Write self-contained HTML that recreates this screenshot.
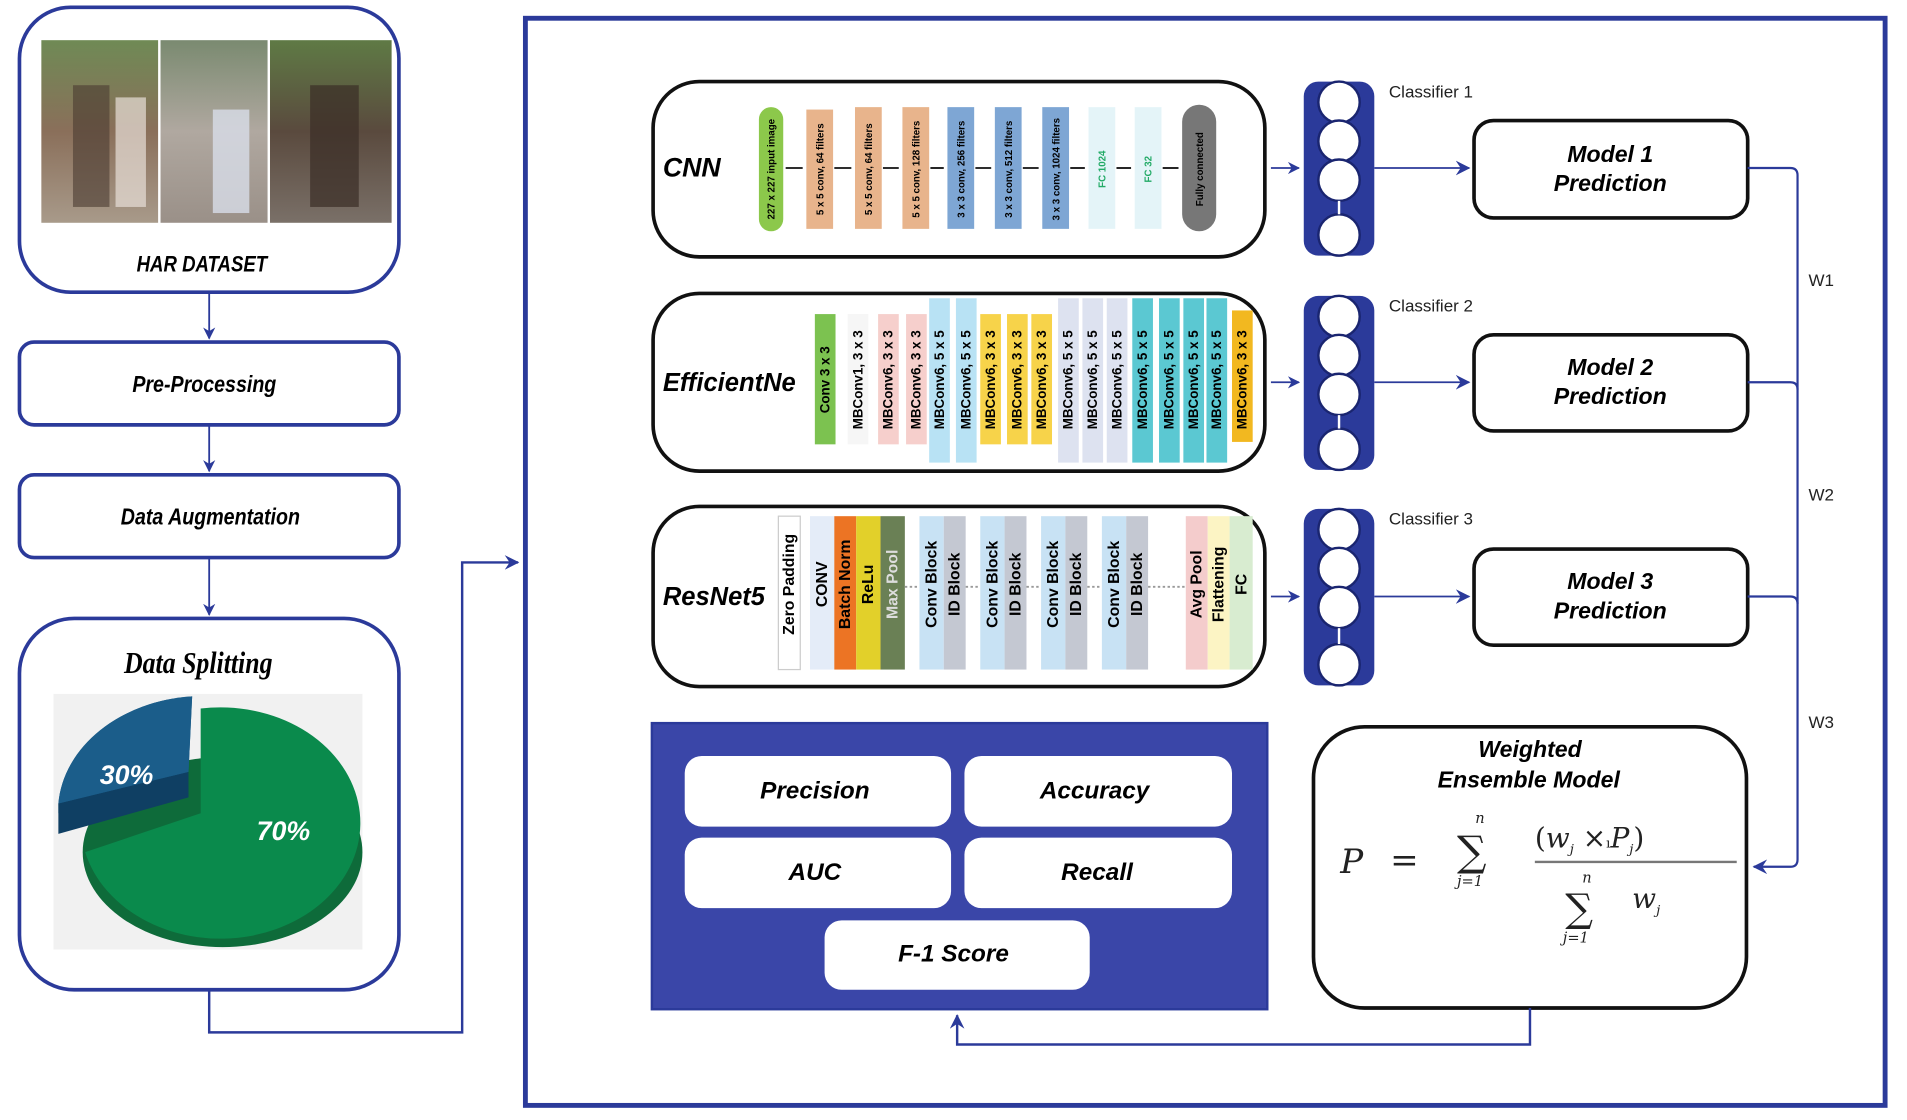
<!DOCTYPE html>
<html><head><meta charset="utf-8"><style>
html,body{margin:0;padding:0;background:#fff;}
svg{display:block;}
.t{font-family:"Liberation Sans",sans-serif;}
.bi{font-family:"Liberation Sans",sans-serif;font-weight:bold;font-style:italic;}
.v{font-family:"Liberation Sans",sans-serif;font-weight:bold;font-size:11px;}
</style></head><body>
<svg width="1907" height="1120" viewBox="0 0 1568 920" preserveAspectRatio="none" xmlns="http://www.w3.org/2000/svg">
<defs>
<marker id="ab" markerWidth="10" markerHeight="10" refX="9" refY="5" orient="auto" markerUnits="userSpaceOnUse"><path d="M0,0 L10,5 L0,10 L3,5 z" fill="#2b3a9a"/></marker>
<marker id="ak" markerWidth="12" markerHeight="12" refX="11" refY="6" orient="auto" markerUnits="userSpaceOnUse"><path d="M0,0 L12,6 L0,12 L4,6 z" fill="#2b3a9a"/></marker>
<linearGradient id="p1" x1="0" y1="0" x2="0" y2="1"><stop offset="0" stop-color="#6f8a55"/><stop offset=".5" stop-color="#8a6f5a"/><stop offset="1" stop-color="#a89a8a"/></linearGradient>
<linearGradient id="p2" x1="0" y1="0" x2="0" y2="1"><stop offset="0" stop-color="#7a8a70"/><stop offset=".5" stop-color="#b0a8a0"/><stop offset="1" stop-color="#9a9088"/></linearGradient>
<linearGradient id="p3" x1="0" y1="0" x2="0" y2="1"><stop offset="0" stop-color="#5f7a45"/><stop offset=".5" stop-color="#5a4a3e"/><stop offset="1" stop-color="#7a7068"/></linearGradient>
</defs>

<!-- LEFT COLUMN -->
<rect x="16" y="6" width="312" height="234" rx="42" fill="#fff" stroke="#2b3a9a" stroke-width="3"/>
<rect x="34" y="33" width="96" height="150" fill="url(#p1)"/>
<rect x="132" y="33" width="88" height="150" fill="url(#p2)"/>
<rect x="222" y="33" width="100" height="150" fill="url(#p3)"/>
<rect x="60" y="70" width="30" height="100" fill="#4a3a30" opacity=".6"/>
<rect x="95" y="80" width="25" height="90" fill="#e8e0d8" opacity=".7"/>
<rect x="175" y="90" width="30" height="85" fill="#d8dde8" opacity=".8"/>
<rect x="255" y="70" width="40" height="100" fill="#3a2e26" opacity=".7"/>
<text x="166" y="223" text-anchor="middle" class="bi" font-size="18" transform="translate(166,0) scale(0.85,1) translate(-166,0)">HAR DATASET</text>
<line x1="172" y1="240" x2="172" y2="278" stroke="#2b3a9a" stroke-width="1.5" marker-end="url(#ab)"/>

<rect x="16" y="281" width="312" height="68" rx="12" fill="#fff" stroke="#2b3a9a" stroke-width="3"/>
<text x="168" y="322" text-anchor="middle" class="bi" font-size="19" transform="translate(168,0) scale(0.85,1) translate(-168,0)">Pre-Processing</text>
<line x1="172" y1="349" x2="172" y2="387" stroke="#2b3a9a" stroke-width="1.5" marker-end="url(#ab)"/>

<rect x="16" y="390" width="312" height="68" rx="12" fill="#fff" stroke="#2b3a9a" stroke-width="3"/>
<text x="173" y="431" text-anchor="middle" class="bi" font-size="19" transform="translate(173,0) scale(0.85,1) translate(-173,0)">Data Augmentation</text>
<line x1="172" y1="458" x2="172" y2="505" stroke="#2b3a9a" stroke-width="1.5" marker-end="url(#ab)"/>

<rect x="16" y="508" width="312" height="305" rx="45" fill="#fff" stroke="#2b3a9a" stroke-width="3"/>
<text x="163" y="553" text-anchor="middle" font-family="Liberation Serif,serif" font-weight="bold" font-style="italic" font-size="25" transform="translate(163,0) scale(0.85,1) translate(-163,0)">Data Splitting</text>
<rect x="44" y="570" width="254" height="210" fill="#f1f1f1"/>
<ellipse cx="183" cy="700" rx="115" ry="78" fill="#0e6b3a"/>
<path d="M165,582 A115,95 0 1,1 70,700 L165,668 z" fill="#0a8a4c"/>
<path d="M48,668 L155,634 L158,572 A120,95 0 0,0 48,660 z" fill="#195b85"/>
<path d="M48,660 L48,685 L155,655 L155,634 z" fill="#0f3f63"/>
<path d="M48,660 A120,95 0 0,1 158,572 L155,634 z" fill="#1b5d8a"/>
<text x="104" y="644" text-anchor="middle" class="bi" font-size="22" fill="#fff">30%</text>
<text x="233" y="690" text-anchor="middle" class="bi" font-size="22" fill="#fff">70%</text>

<polyline points="172,813 172,848 380,848 380,462 426,462" fill="none" stroke="#2b3a9a" stroke-width="2" marker-end="url(#ak)"/>

<!-- MAIN FRAME -->
<rect x="432" y="15" width="1118" height="893" fill="none" stroke="#2b3a9a" stroke-width="4"/>

<!-- CNN -->
<rect x="537" y="67" width="503" height="144" rx="38" fill="#fff" stroke="#111" stroke-width="3"/>
<text x="545" y="145" class="bi" font-size="22">CNN</text>
<rect x="624" y="88" width="20" height="102" rx="10" fill="#8cc84b"/>
<rect x="663" y="90" width="22" height="98" fill="#e8b48c"/>
<rect x="703" y="88" width="22" height="100" fill="#e8b48c"/>
<rect x="742" y="88" width="22" height="100" fill="#e8b48c"/>
<rect x="779" y="88" width="22" height="100" fill="#7ea6d4"/>
<rect x="818" y="88" width="22" height="100" fill="#7ea6d4"/>
<rect x="857" y="88" width="22" height="100" fill="#7ea6d4"/>
<rect x="895" y="88" width="22" height="100" fill="#e4f4f8"/>
<rect x="933" y="88" width="22" height="100" fill="#e4f4f8"/>
<rect x="972" y="86" width="28" height="104" rx="14" fill="#777"/>
<g stroke="#111" stroke-width="1.5">
<line x1="646" y1="138" x2="660" y2="138"/><line x1="686" y1="138" x2="700" y2="138"/><line x1="726" y1="138" x2="739" y2="138"/><line x1="765" y1="138" x2="776" y2="138"/><line x1="802" y1="138" x2="815" y2="138"/><line x1="841" y1="138" x2="854" y2="138"/><line x1="880" y1="138" x2="892" y2="138"/><line x1="918" y1="138" x2="930" y2="138"/><line x1="956" y1="138" x2="969" y2="138"/>
</g>
<g class="t" font-size="8" font-weight="bold" text-anchor="middle">
<text transform="translate(637,139) rotate(-90)">227 x 227 input image</text>
<text transform="translate(677,139) rotate(-90)">5 x 5 conv, 64 filters</text>
<text transform="translate(717,139) rotate(-90)">5 x 5 conv, 64 filters</text>
<text transform="translate(756,139) rotate(-90)">5 x 5 conv, 128 filters</text>
<text transform="translate(793,139) rotate(-90)">3 x 3 conv, 256 filters</text>
<text transform="translate(832,139) rotate(-90)">3 x 3 conv, 512 filters</text>
<text transform="translate(871,139) rotate(-90)">3 x 3 conv, 1024 filters</text>
<text transform="translate(909,139) rotate(-90)" fill="#2a6">FC 1024</text>
<text transform="translate(947,139) rotate(-90)" fill="#2a6">FC 32</text>
<text transform="translate(989,139) rotate(-90)">Fully connected</text>
</g>
<line x1="1045" y1="138" x2="1068" y2="138" stroke="#2b3a9a" stroke-width="1.5" marker-end="url(#ab)"/>

<!-- EfficientNet -->
<rect x="537" y="241" width="503" height="146" rx="38" fill="#fff" stroke="#111" stroke-width="3"/>
<text x="545" y="321" class="bi" font-size="21">EfficientNe</text>
<g>
<rect x="670" y="258" width="17" height="107" fill="#7cc250"/>
<rect x="697" y="258" width="17" height="107" fill="#f6f6f6"/>
<rect x="722" y="258" width="17" height="107" fill="#f6cfcc"/>
<rect x="745" y="258" width="17" height="107" fill="#f6cfcc"/>
<rect x="764" y="245" width="17" height="135" fill="#b8e2f4"/>
<rect x="786" y="245" width="17" height="135" fill="#b8e2f4"/>
<rect x="806" y="258" width="17" height="107" fill="#f7d34a"/>
<rect x="828" y="258" width="17" height="107" fill="#f7d34a"/>
<rect x="848" y="258" width="17" height="107" fill="#f7d34a"/>
<rect x="870" y="245" width="17" height="135" fill="#dde2f0"/>
<rect x="890" y="245" width="17" height="135" fill="#dde2f0"/>
<rect x="910" y="245" width="17" height="135" fill="#dde2f0"/>
<rect x="931" y="245" width="17" height="135" fill="#5bc8d2"/>
<rect x="953" y="245" width="17" height="135" fill="#5bc8d2"/>
<rect x="973" y="245" width="17" height="135" fill="#5bc8d2"/>
<rect x="992" y="245" width="17" height="135" fill="#5bc8d2"/>
<rect x="1013" y="255" width="17" height="108" fill="#f2b820"/>
</g>
<g class="v" font-size="9" text-anchor="middle">
<text transform="translate(682,312) rotate(-90)">Conv 3 x 3</text>
<text transform="translate(709,312) rotate(-90)">MBConv1, 3 x 3</text>
<text transform="translate(734,312) rotate(-90)">MBConv6, 3 x 3</text>
<text transform="translate(757,312) rotate(-90)">MBConv6, 3 x 3</text>
<text transform="translate(776,312) rotate(-90)">MBConv6, 5 x 5</text>
<text transform="translate(798,312) rotate(-90)">MBConv6, 5 x 5</text>
<text transform="translate(818,312) rotate(-90)">MBConv6, 3 x 3</text>
<text transform="translate(840,312) rotate(-90)">MBConv6, 3 x 3</text>
<text transform="translate(860,312) rotate(-90)">MBConv6, 3 x 3</text>
<text transform="translate(882,312) rotate(-90)">MBConv6, 5 x 5</text>
<text transform="translate(902,312) rotate(-90)">MBConv6, 5 x 5</text>
<text transform="translate(922,312) rotate(-90)">MBConv6, 5 x 5</text>
<text transform="translate(943,312) rotate(-90)">MBConv6, 5 x 5</text>
<text transform="translate(965,312) rotate(-90)">MBConv6, 5 x 5</text>
<text transform="translate(985,312) rotate(-90)">MBConv6, 5 x 5</text>
<text transform="translate(1004,312) rotate(-90)">MBConv6, 5 x 5</text>
<text transform="translate(1025,312) rotate(-90)">MBConv6, 3 x 3</text>
</g>
<line x1="1045" y1="314" x2="1068" y2="314" stroke="#2b3a9a" stroke-width="1.5" marker-end="url(#ab)"/>

<!-- ResNet -->
<rect x="537" y="416" width="503" height="148" rx="38" fill="#fff" stroke="#111" stroke-width="3"/>
<text x="545" y="497" class="bi" font-size="21">ResNet5</text>
<rect x="640" y="424" width="18" height="126" fill="#fff" stroke="#ccc"/>
<rect x="666" y="424" width="20" height="126" fill="#e4ecf8"/>
<rect x="686" y="424" width="18" height="126" fill="#ec7424"/>
<rect x="704" y="424" width="20" height="126" fill="#e2d02a"/>
<rect x="724" y="424" width="20" height="126" fill="#6a8055"/>
<g fill="#c8e2f4"><rect x="756" y="424" width="20" height="126"/><rect x="806" y="424" width="20" height="126"/><rect x="856" y="424" width="20" height="126"/><rect x="906" y="424" width="20" height="126"/></g>
<g fill="#c4c8d2"><rect x="776" y="424" width="18" height="126"/><rect x="826" y="424" width="18" height="126"/><rect x="876" y="424" width="18" height="126"/><rect x="926" y="424" width="18" height="126"/></g>
<rect x="975" y="424" width="18" height="126" fill="#f4cccc"/>
<rect x="993" y="424" width="18" height="126" fill="#fcf4c4"/>
<rect x="1011" y="424" width="19" height="126" fill="#d8ecd0"/>
<g stroke="#999" stroke-dasharray="2,2" stroke-width="1.5"><line x1="744" y1="482" x2="756" y2="482"/><line x1="794" y1="482" x2="806" y2="482"/><line x1="844" y1="482" x2="856" y2="482"/><line x1="894" y1="482" x2="906" y2="482"/><line x1="944" y1="482" x2="975" y2="482"/></g>
<g class="t" font-weight="bold" font-size="13" text-anchor="middle">
<text transform="translate(653,480) rotate(-90)">Zero  Padding</text>
<text transform="translate(680,480) rotate(-90)">CONV</text>
<text transform="translate(699,480) rotate(-90)">Batch Norm</text>
<text transform="translate(718,480) rotate(-90)">ReLu</text>
<text transform="translate(738,480) rotate(-90)" fill="#ddd">Max Pool</text>
<text transform="translate(770,480) rotate(-90)">Conv Block</text>
<text transform="translate(789,480) rotate(-90)">ID Block</text>
<text transform="translate(820,480) rotate(-90)">Conv Block</text>
<text transform="translate(839,480) rotate(-90)">ID Block</text>
<text transform="translate(870,480) rotate(-90)">Conv Block</text>
<text transform="translate(889,480) rotate(-90)">ID Block</text>
<text transform="translate(920,480) rotate(-90)">Conv Block</text>
<text transform="translate(939,480) rotate(-90)">ID Block</text>
<text transform="translate(988,480) rotate(-90)">Avg Pool</text>
<text transform="translate(1006,480) rotate(-90)">Flattening</text>
<text transform="translate(1025,480) rotate(-90)">FC</text>
</g>
<line x1="1045" y1="490" x2="1068" y2="490" stroke="#2b3a9a" stroke-width="1.5" marker-end="url(#ab)"/>

<!-- Classifiers -->
<g>
<rect x="1072" y="67" width="58" height="143" rx="12" fill="#2b3a9a"/>
<g fill="#fff" stroke="#1a2570" stroke-width="2"><circle cx="1101" cy="84" r="17"/><circle cx="1101" cy="116" r="17"/><circle cx="1101" cy="148" r="17"/><circle cx="1101" cy="193" r="17"/></g>
<line x1="1101" y1="165" x2="1101" y2="176" stroke="#fff" stroke-width="2"/>
<rect x="1072" y="243" width="58" height="143" rx="12" fill="#2b3a9a"/>
<g fill="#fff" stroke="#1a2570" stroke-width="2"><circle cx="1101" cy="260" r="17"/><circle cx="1101" cy="292" r="17"/><circle cx="1101" cy="324" r="17"/><circle cx="1101" cy="369" r="17"/></g>
<line x1="1101" y1="341" x2="1101" y2="352" stroke="#fff" stroke-width="2"/>
<rect x="1072" y="418" width="58" height="145" rx="12" fill="#2b3a9a"/>
<g fill="#fff" stroke="#1a2570" stroke-width="2"><circle cx="1101" cy="435" r="17"/><circle cx="1101" cy="467" r="17"/><circle cx="1101" cy="499" r="17"/><circle cx="1101" cy="546" r="17"/></g>
<line x1="1101" y1="516" x2="1101" y2="529" stroke="#fff" stroke-width="2"/>
</g>
<g class="t" font-size="14" fill="#222">
<text x="1142" y="80">Classifier 1</text>
<text x="1142" y="256">Classifier 2</text>
<text x="1142" y="431">Classifier 3</text>
<text x="1487" y="235">W1</text>
<text x="1487" y="411">W2</text>
<text x="1487" y="598">W3</text>
</g>
<g stroke="#2b3a9a" stroke-width="1.5">
<line x1="1130" y1="138" x2="1208" y2="138" marker-end="url(#ak)"/>
<line x1="1130" y1="314" x2="1208" y2="314" marker-end="url(#ak)"/>
<line x1="1130" y1="490" x2="1208" y2="490" marker-end="url(#ak)"/>
</g>
<g fill="#fff" stroke="#111" stroke-width="3">
<rect x="1212" y="99" width="225" height="80" rx="16"/>
<rect x="1212" y="275" width="225" height="79" rx="16"/>
<rect x="1212" y="451" width="225" height="79" rx="16"/>
</g>
<g class="bi" font-size="19" text-anchor="middle">
<text x="1324" y="133">Model 1</text><text x="1324" y="157">Prediction</text>
<text x="1324" y="308">Model 2</text><text x="1324" y="332">Prediction</text>
<text x="1324" y="484">Model 3</text><text x="1324" y="508">Prediction</text>
</g>
<g fill="none" stroke="#2b3a9a" stroke-width="1.8">
<path d="M1437,138 L1472,138 Q1478,138 1478,144 L1478,706 Q1478,712 1472,712 L1442,712" marker-end="url(#ak)"/>
<path d="M1437,314 L1472,314 Q1478,314 1478,320"/>
<path d="M1437,490 L1472,490 Q1478,490 1478,496"/>
</g>

<!-- Metrics panel -->
<rect x="536" y="594" width="506" height="235" fill="#3a46a8" stroke="#2b3a9a" stroke-width="2"/>
<g fill="#fff">
<rect x="563" y="621" width="219" height="58" rx="14"/>
<rect x="793" y="621" width="220" height="58" rx="14"/>
<rect x="563" y="688" width="219" height="58" rx="14"/>
<rect x="793" y="688" width="220" height="58" rx="14"/>
<rect x="678" y="756" width="218" height="57" rx="14"/>
</g>
<g class="bi" font-size="20" text-anchor="middle">
<text x="670" y="656">Precision</text>
<text x="900" y="656">Accuracy</text>
<text x="670" y="723">AUC</text>
<text x="902" y="723">Recall</text>
<text x="784" y="790">F-1 Score</text>
</g>

<!-- Ensemble -->
<rect x="1080" y="597" width="356" height="231" rx="42" fill="#fff" stroke="#111" stroke-width="3"/>
<g class="bi" font-size="19" text-anchor="middle">
<text x="1258" y="622">Weighted</text>
<text x="1257" y="647">Ensemble Model</text>
</g>
<g font-family="DejaVu Serif,serif" fill="#222">
<text x="1102" y="717" font-size="28" font-style="italic">P</text>
<text x="1143" y="716" font-size="28">=</text>
<text x="1198" y="711" font-size="34">∑</text>
<text x="1213" y="676" font-size="12" font-style="italic">n</text>
<text x="1198" y="728" font-size="12" font-style="italic">j=1</text>
<text x="1262" y="696" font-size="23"><tspan>(</tspan><tspan font-style="italic">w</tspan><tspan font-size="11" font-style="italic" dy="5">j</tspan><tspan dy="-5"> ×</tspan><tspan font-size="11">ı</tspan><tspan font-style="italic">P</tspan><tspan font-size="11" font-style="italic" dy="5">j</tspan><tspan dy="-5">)</tspan></text>
<line x1="1262" y1="708" x2="1428" y2="708" stroke="#777" stroke-width="2"/>
<text x="1287" y="757" font-size="32">∑</text>
<text x="1301" y="725" font-size="12" font-style="italic">n</text>
<text x="1285" y="774" font-size="12" font-style="italic">j=1</text>
<text x="1342" y="746" font-size="23" font-style="italic">w<tspan font-size="11" dy="5">j</tspan></text>
</g>
<polyline points="1258,828 1258,858 787,858 787,834" fill="none" stroke="#2b3a9a" stroke-width="2" marker-end="url(#ak)"/>
</svg>
</body></html>
